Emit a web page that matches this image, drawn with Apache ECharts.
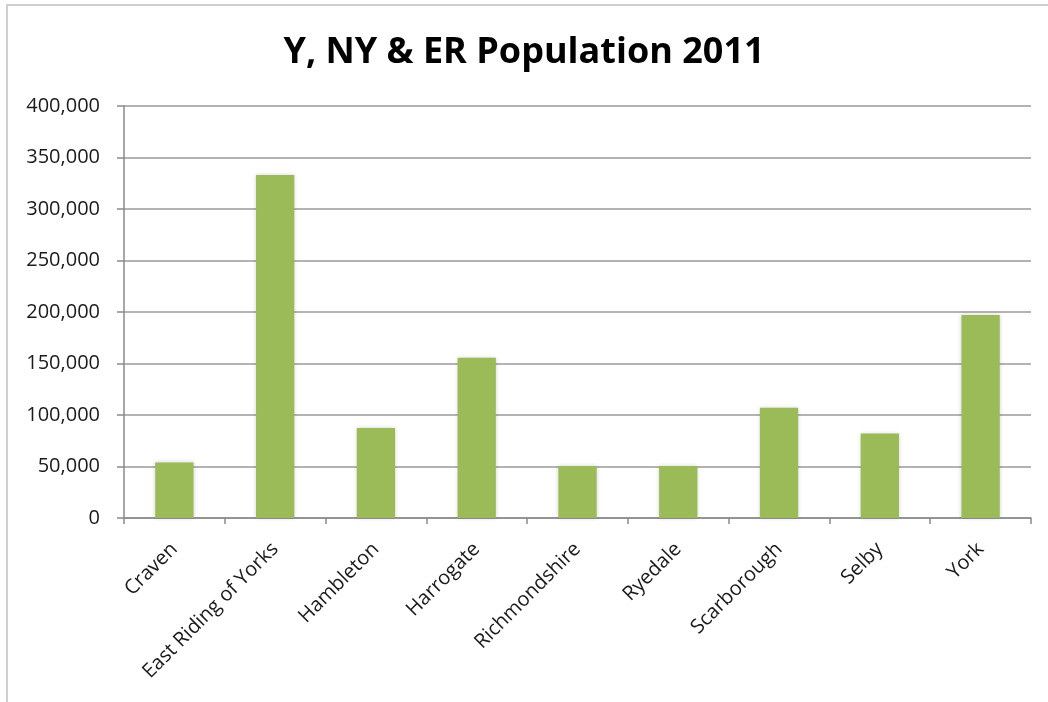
<!DOCTYPE html>
<html>
<head>
<meta charset="utf-8">
<script src="https://cdn.jsdelivr.net/npm/echarts@6/dist/echarts.min.js"></script>
<style>
html,body{margin:0;padding:0;background:#fff;}
#frame{position:absolute;left:6px;top:4px;width:1042px;height:698px;border-top:2px solid #cfcfcf;border-left:2px solid #cfcfcf;box-sizing:border-box;}
#chart{position:absolute;left:0;top:0;width:1048px;height:702px;}
</style>
</head>
<body>
<div id="frame"></div>
<div id="chart"></div>
<script>
const titleText = 'Y, NY & ER Population 2011';
const categories = ['Craven','East Riding of Yorks','Hambleton','Harrogate','Richmondshire','Ryedale','Scarborough','Selby','York'];
const population = [54000, 333000, 87500, 155500, 50500, 50500, 107000, 82000, 197000];
const yMin = 0, yMax = 400000, yStep = 50000;

const chart = echarts.init(document.getElementById('chart'));
chart.setOption({
  backgroundColor: 'transparent',
  animation: false,
  title: {
    text: titleText,
    left: 'center',
    top: 30,
    textStyle: {fontFamily: '"Open Sans",sans-serif', fontWeight: 'bold', fontSize: 36, color: '#000'}
  },
  grid: {left: 124, right: 17, top: 106, bottom: 184, containLabel: false},
  xAxis: {
    type: 'category',
    data: categories,
    axisLine: {lineStyle: {color: '#8a8a8a', width: 1.5}},
    axisTick: {show: true, length: 6, lineStyle: {color: '#8a8a8a', width: 1.5}},
    axisLabel: {rotate: 45, margin: 28, fontSize: 20, color: '#1a1a1a', fontFamily: '"Open Sans",sans-serif', interval: 0}
  },
  yAxis: {
    type: 'value',
    min: yMin, max: yMax, interval: yStep,
    axisLine: {show: true, lineStyle: {color: '#8a8a8a', width: 1.5}},
    axisTick: {show: true, length: 7, lineStyle: {color: '#8a8a8a', width: 1.5}},
    splitLine: {lineStyle: {color: '#9a9a9a', width: 1.5}},
    axisLabel: {margin: 24, fontSize: 20, color: '#1a1a1a', fontFamily: '"Open Sans",sans-serif',
      formatter: v => v.toLocaleString('en-US')}
  },
  series: [{
    type: 'bar',
    data: population,
    barWidth: '38%',
    itemStyle: {color: '#9BBB59', shadowBlur: 4, shadowColor: 'rgba(0,0,0,0.18)'}
  }]
});
</script>
</body>
</html>
